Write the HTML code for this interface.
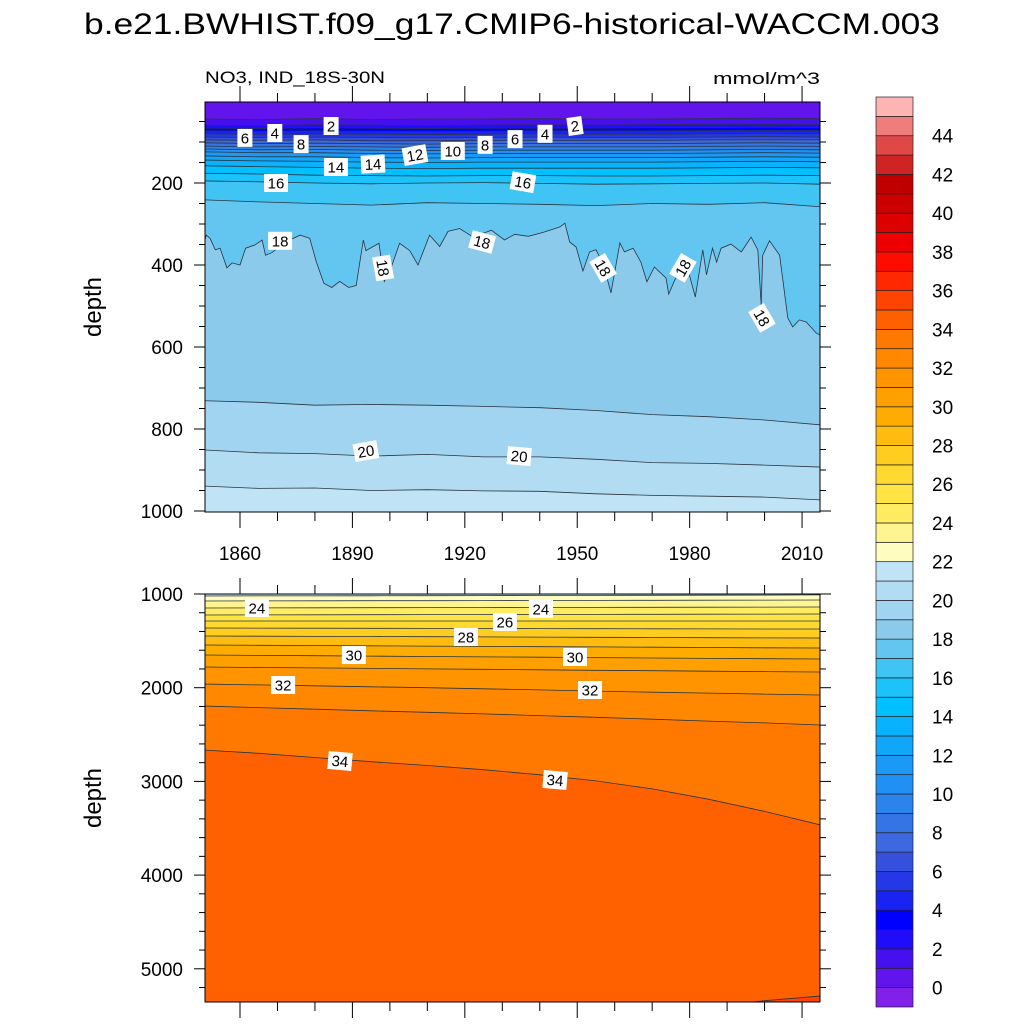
<!DOCTYPE html>
<html><head><meta charset="utf-8"><style>
body{margin:0;background:#fff;}
svg{display:block;font-family:"Liberation Sans",Arial,sans-serif;}
</style></head><body>
<svg id="chart" width="1024" height="1024" viewBox="0 0 1024 1024" xmlns="http://www.w3.org/2000/svg">
<defs>
<clipPath id="clipTop"><rect x="205" y="102" width="615" height="410"/></clipPath>
<clipPath id="clipBot"><rect x="205" y="594" width="615" height="408"/></clipPath>
</defs>
<text x="512" y="34" font-size="30" text-anchor="middle" textLength="856" lengthAdjust="spacingAndGlyphs">b.e21.BWHIST.f09_g17.CMIP6-historical-WACCM.003</text>
<text x="205" y="83" font-size="17" textLength="180" lengthAdjust="spacingAndGlyphs">NO3, IND_18S-30N</text>
<text x="820" y="84" font-size="17" text-anchor="end" textLength="107" lengthAdjust="spacingAndGlyphs">mmol/m^3</text>
<g id="top"></g>
<g id="bot"></g>
<g id="cbar"></g>
<text transform="translate(101,307) rotate(-90)" font-size="24" text-anchor="middle">depth</text>
<text transform="translate(101,798) rotate(-90)" font-size="24" text-anchor="middle">depth</text>
</svg>
<script>
// ---- data ----
const colors = ["#8020e8","#6214ec","#4610ee","#200cf8","#0000ff","#1a24f2","#2438e8","#3450dc","#3c68e0","#3474e4","#2a84ec","#2090f4","#1a9af6","#10a6fa","#08b2fc","#00c0ff","#1cc2fa","#40c4f4","#62c6f0","#8ccaec","#a0d4f0","#b2dcf2","#c0e4f6","#fffcc0","#fff490","#ffec60","#ffe444","#ffd830","#ffcc20","#ffbc10","#ffac00","#ffa000","#ff9400","#ff8800","#ff7800","#ff6000","#ff4400","#ff2800","#ff0c00","#ee0000","#dd0000","#cc0000","#c00000","#d02424","#e04848","#f07c7c","#ffb4b4"];
const cbarLabels = [0,2,4,6,8,10,12,14,16,18,20,22,24,26,28,30,32,34,36,38,40,42,44];
const years = [1850,1865,1880,1895,1910,1925,1940,1955,1970,1985,2000,2015];
const topLevels = [1,2,3,4,5,6,7,8,9,10,11,12,13,14,15,16,17];
const topDepths = [
 [44,45,43,45,44,44,43,44,44,43,42,43],
 [59,60,58,59,60,59,58,59,58,57,57,58],
 [66,67,65,66,67,66,66,66,65,65,64,65],
 [73,74,73,74,74,74,73,73,73,72,72,72],
 [80,81,80,81,82,81,80,81,81,80,79,80],
 [88,89,88,89,90,89,88,89,89,88,87,88],
 [95,96,95,97,97,96,96,96,96,95,95,95],
 [102,104,103,104,105,104,104,104,104,103,102,103],
 [110,112,111,112,113,112,112,112,112,111,110,111],
 [117,119,118,120,121,120,120,120,120,119,118,119],
 [124,126,126,128,129,128,128,128,128,127,126,127],
 [134,136,136,138,139,138,138,138,138,137,136,137],
 [144,146,147,149,150,149,149,149,149,148,147,148],
 [158,160,162,164,165,164,164,164,164,163,162,163],
 [176,178,181,182,183,182,182,183,183,182,181,182],
 [195,197,200,202,200,199,201,203,202,201,200,203],
 [241,246,250,254,248,250,252,255,250,252,248,258]
];
const yr18 = [1850,1851,1852,1853.4,1854.7,1856.5,1857.9,1860,1861.5,1864,1865.9,1866.8,1868.5,1872,1876,1878.6,1880.4,1882.4,1884.5,1886.6,1889,1891,1892.9,1893.6,1897.1,1898.5,1900,1902.6,1905.3,1907.5,1910.6,1913.3,1915.5,1918.6,1922.2,1927.1,1930.6,1933.3,1937,1941,1945.4,1946.7,1948,1949.7,1951.5,1953.3,1955,1957,1959,1961.4,1962.6,1964.9,1967,1968.6,1970.6,1973.7,1974.4,1976,1979,1981.5,1983.5,1984.5,1986.1,1987.2,1988.4,1991,1993.8,1996.4,1998.2,1999.1,1999.5,2001.3,2004,2006.2,2007.5,2009.3,2011.1,2013.8,2015];
const dep18 = [360,327,335,363,359,407,395,400,359,351,339,376,370,345,327,335,393,445,455,440,455,450,339,365,347,440,415,347,365,400,327,355,318,311,332,315,339,325,330,320,307,298,344,356,415,368,363,400,468,346,368,359,393,441,405,432,471,437,393,478,363,424,359,393,359,349,368,332,363,498,376,341,376,529,551,534,539,566,572];
const deepLevels = [19,20,21];
const deepDepths = [
 [731,735,742,740,742,745,748,755,765,770,778,790],
 [851,858,860,866,862,868,868,874,882,884,888,893],
 [939,945,944,950,948,951,952,958,962,964,966,973]
];
const botLevels = [22,23,24,25,26,27,28,29,30,31,32,33,34,35];
const botDepths = [
 [1021,1020,1020,1019,1018,1017,1016,1015,1014,1013,1012,1010],
 [1075,1074,1073,1072,1071,1070,1069,1068,1067,1066,1065,1064],
 [1149,1148,1147,1146,1145,1145,1144,1143,1142,1141,1140,1139],
 [1224,1223,1222,1221,1220,1220,1219,1218,1217,1216,1215,1213],
 [1288,1288,1288,1288,1288,1288,1288,1288,1288,1288,1288,1288],
 [1363,1364,1365,1366,1367,1368,1369,1370,1371,1372,1373,1374],
 [1448,1450,1452,1454,1456,1458,1460,1462,1464,1466,1468,1470],
 [1544,1547,1550,1553,1556,1559,1562,1565,1568,1571,1574,1576],
 [1651,1655,1659,1663,1667,1671,1675,1679,1683,1687,1691,1694],
 [1779,1784,1789,1794,1799,1804,1809,1814,1819,1824,1828,1832],
 [1960,1970,1980,1990,2000,2012,2024,2036,2048,2058,2068,2078],
 [2195,2212,2229,2246,2263,2280,2298,2316,2336,2356,2376,2398],
 [2665,2700,2745,2790,2830,2875,2930,2995,3080,3190,3320,3465],
 [5700,5680,5660,5640,5620,5590,5560,5520,5480,5400,5340,5290]
];
const topLabels = [["6",1861.3,90,0],["4",1869.3,78,0],["8",1876.3,105,0],["2",1884.3,61,0],["14",1885.6,161,0],["14",1895.5,154,-3],["12",1906.7,132,-10],["10",1916.8,122,0],["8",1925.4,107,0],["6",1933.4,93,0],["4",1941.4,80,0],["2",1949.4,61,-8],["16",1869.6,200,0],["16",1935.5,198,10],["18",1870.7,341,0],["18",1898.2,407,80],["18",1924.6,344,15],["18",1956.9,407,60],["18",1978.2,407,-60],["18",1999.3,529,60],["20",1893.6,854,-10],["20",1934.5,866,5]];
const botLabels = [["24",1864.5,1149,0],["24",1940.3,1160,0],["26",1930.7,1299,0],["28",1920.3,1459,0],["30",1890.4,1651,0],["30",1949.4,1672,0],["32",1871.5,1971,0],["32",1953.4,2025,0],["34",1886.7,2782,5],["34",1944.1,2985,5]];
const xTicks = [1860,1890,1920,1950,1980,2010];

// ---- axes ----
const X0=205,X1=820;
const xS = yr => 240 + (yr-1860)*3.747;
const yT = d => 101 + d*0.41;
const yB = d => 594 + (d-1000)*0.0937;
const NS="http://www.w3.org/2000/svg";
function mk(tag, attrs, parent){const e=document.createElementNS(NS,tag);for(const k in attrs)e.setAttribute(k,attrs[k]);parent.appendChild(e);return e;}

function panel(g, clip, base, levels, lineSets, yF, top, bottom){
  const cg = mk('g',{'clip-path':'url(#'+clip+')'},g);
  const bg = mk('rect',{x:X0,y:top,width:X1-X0,height:bottom-top,fill:base},cg);
  
  
  levels.forEach((lv,i)=>{
    const [ys,ds]=lineSets[i];
    const pts = ys.map((y,j)=>xS(y).toFixed(1)+','+yF(ds[j]).toFixed(1));
    const poly = mk('polygon',{points:pts.join(' ')+' '+xS(ys[ys.length-1]).toFixed(1)+','+(bottom+50)+' '+xS(ys[0]).toFixed(1)+','+(bottom+50),fill:colors[lv+1]},cg);
    
    
  });
  levels.forEach((lv,i)=>{
    const [ys,ds]=lineSets[i];
    const pts = ys.map((y,j)=>xS(y).toFixed(1)+','+yF(ds[j]).toFixed(1));
    const pl = mk('polyline',{points:pts.join(' '),fill:'none',stroke:'#2a3440','stroke-width':0.8},cg);
    
    
  });
}
function labels(g, list, yF){
  list.forEach(l=>{
    const x=xS(l[1]), y=yF(l[2]);
    const lg = mk('g',{transform:`translate(${x.toFixed(1)},${y.toFixed(1)}) rotate(${l[3]})`},g);
    
    
    const w = l[0].length*9+6;
    mk('rect',{x:-w/2,y:-9,width:w,height:18,fill:'#fff'},lg);
    const t = mk('text',{x:0,y:5.5,'font-size':15,'text-anchor':'middle'},lg);
    t.textContent=l[0];
  });
}
function frame(g, top, bottom, yF, yMajor, yMinor, dMin, dMax, showXLabels, xLabelY){
  mk('rect',{x:X0,y:top,width:X1-X0,height:bottom-top,fill:'none',stroke:'#000','stroke-width':1},g);
  for(let yr=1850; yr<=2015; yr+=10){
    const x=xS(yr); if(x<X0||x>X1) continue;
    const L = (yr%30===0)?16:9;
    mk('line',{x1:x,y1:bottom,x2:x,y2:bottom+L,stroke:'#000','stroke-width':1},g);
    mk('line',{x1:x,y1:top,x2:x,y2:top-L,stroke:'#000','stroke-width':1},g);
  }
  for(let d=0; d<=dMax; d+=yMinor){
    if(d<dMin) continue;
    const y=yF(d); if(y<top-0.5||y>bottom+0.5) continue;
    const L = (d%yMajor===0)?11:6;
    mk('line',{x1:X0,y1:y,x2:X0-L,y2:y,stroke:'#000','stroke-width':1},g);
    mk('line',{x1:X1,y1:y,x2:X1+L,y2:y,stroke:'#000','stroke-width':1},g);
    if(d%yMajor===0){
      const t=mk('text',{x:X0-22,y:y+7,'font-size':19,'text-anchor':'end'},g);
      
      
      t.textContent=d;
    }
  }
  if(showXLabels){
    xTicks.forEach(yr=>{
      const t=mk('text',{x:xS(yr),y:xLabelY,'font-size':19,'text-anchor':'middle'},g);
      
      
      t.textContent=yr;
    });
  }
}

const gTop=document.getElementById('top');
const topSets = topDepths.map(d=>[years,d]).concat([[yr18,dep18]]).concat(deepDepths.map(d=>[years,d]));
panel(gTop,'clipTop',colors[1],topLevels.concat([18]).concat(deepLevels),topSets,yT,102,512);
labels(gTop,topLabels,yT);
frame(gTop,102,512,yT,200,50,0,1000,true,560);

const gBot=document.getElementById('bot');
panel(gBot,'clipBot',colors[22],botLevels,botDepths.map(d=>[years,d]),yB,594,1002);
labels(gBot,botLabels,yB);
frame(gBot,594,1002,yB,1000,200,1000,5400,false,0);

// colorbar
const cb=document.getElementById('cbar');
const CB0=1007, bh=910/colors.length;
colors.forEach((c,i)=>{
  const r=mk('rect',{x:876,y:(CB0-(i+1)*bh).toFixed(2),width:37,height:bh.toFixed(2),fill:c,stroke:'#222','stroke-width':0.7},cb);
  
  
});
cbarLabels.forEach(v=>{
  const y = CB0-(v+1)*bh;
  const t=mk('text',{x:932,y:(y+7).toFixed(1),'font-size':19},cb);
  
  
  t.textContent=v;
});
</script>
</body></html>
